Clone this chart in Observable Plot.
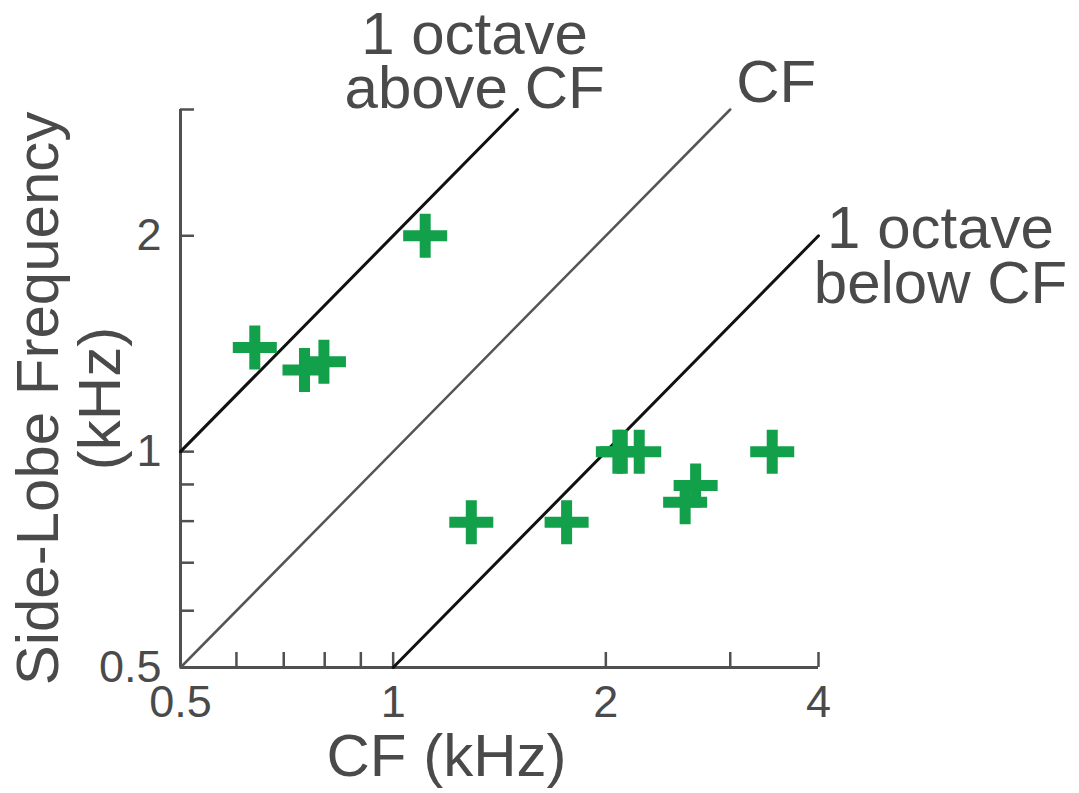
<!DOCTYPE html>
<html>
<head>
<meta charset="utf-8">
<script src="https://cdn.jsdelivr.net/npm/d3@7"></script>
<script src="https://cdn.jsdelivr.net/npm/@observablehq/plot@0.6"></script>
<style>
  html, body { margin: 0; padding: 0; background: #ffffff; }
  #chart svg { display: block; }
</style>
</head>
<body>
<div id="chart"></div>
<script>
// Data
const cfKHz = [0.637, 0.749, 0.798, 1.11, 1.29, 1.76, 2.08, 2.11, 2.23, 2.59, 2.68, 3.44];
const sideLobeKHz = [1.397, 1.30, 1.335, 2.0, 0.797, 0.797, 1.0, 1.0, 1.0, 0.85, 0.897, 1.0];

const xTickValues = [0.6, 0.7, 0.8, 0.9, 1, 2, 3, 4];
const xTickLabels = [0.5, 1, 2, 4];
const yTickValues = [0.6, 0.7, 0.8, 0.9, 1, 2, 3];
const yTickLabels = [0.5, 1, 2];

const octaveAboveX = [0.5, 1.5];
const octaveAboveY = [1, 3];
const cfLineX = [0.5, 3];
const cfLineY = [0.5, 3];
const octaveBelowX = [1, 4];
const octaveBelowY = [0.5, 2];

const labelAbove = "1 octave\nabove CF";
const labelCF = "CF";
const labelBelow = "1 octave\nbelow CF";
const xAxisLabel = "CF (kHz)";
const yAxisLabel = "Side-Lobe Frequency\n(kHz)";

const textColor = "#4a4a4a";
const axisColor = "#505050";
const green = "#12a04b";

const points = cfKHz.map((x, i) => ({cf: x, sl: sideLobeKHz[i]}));

const chart = Plot.plot({
  width: 1079,
  height: 793,
  marginLeft: 180,
  marginRight: 261,
  marginTop: 109,
  marginBottom: 126,
  x: {type: "log", domain: [0.5, 4]},
  y: {type: "log", domain: [0.5, 3]},
  style: {fontFamily: "'Liberation Sans', Arial, sans-serif", background: "#ffffff", color: textColor},
  marks: [
    // axis lines
    Plot.ruleY([0.5], {stroke: axisColor, strokeWidth: 3}),
    Plot.ruleX([0.5], {stroke: axisColor, strokeWidth: 3}),
    // inward ticks
    Plot.tickX(xTickValues, {x: d => d, insetTop: 543, stroke: axisColor, strokeWidth: 2.5}),
    Plot.tickY(yTickValues, {y: d => d, insetRight: 624, stroke: axisColor, strokeWidth: 2.5}),
    // tick labels
    Plot.axisX(xTickLabels, {tickSize: 0, tickPadding: 18, fontSize: 45, tickFormat: d => String(d), label: null, fill: textColor}),
    Plot.axisY(yTickLabels, {tickSize: 0, tickPadding: 19, fontSize: 45, tickFormat: d => String(d), label: null, fill: textColor}),
    // reference lines
    Plot.line({length: 2}, {x: cfLineX, y: cfLineY, stroke: "#555555", strokeWidth: 2.5}),
    Plot.line({length: 2}, {x: octaveAboveX, y: octaveAboveY, stroke: "#111111", strokeWidth: 3}),
    Plot.line({length: 2}, {x: octaveBelowX, y: octaveBelowY, stroke: "#111111", strokeWidth: 3}),
    // data points
    Plot.dot(points, {x: "cf", y: "sl", symbol: "plus", r: 14.2, stroke: green, strokeWidth: 11}),
    // annotations
    Plot.text([labelAbove], {x: [octaveAboveX[1]], y: [octaveAboveY[1]], text: d => d, textAnchor: "middle", lineAnchor: "bottom", lineHeight: 0.9, dx: -43, dy: -2, fontSize: 60, fill: textColor}),
    Plot.text([labelCF], {x: [cfLineX[1]], y: [cfLineY[1]], text: d => d, textAnchor: "start", lineAnchor: "bottom", dx: 6, dy: -8, fontSize: 60, fill: textColor}),
    Plot.text([labelBelow], {x: [octaveBelowX[1]], y: [octaveBelowY[1]], text: d => d, textAnchor: "middle", lineAnchor: "bottom", lineHeight: 0.92, dx: 122, dy: 67, fontSize: 60, fill: textColor}),
    Plot.text([xAxisLabel], {frameAnchor: "bottom", text: d => d, textAnchor: "middle", lineAnchor: "bottom", dx: -53, dy: 108, fontSize: 60, fill: textColor}),
    Plot.text([yAxisLabel], {frameAnchor: "left", text: d => d, rotate: -90, textAnchor: "middle", lineAnchor: "top", lineHeight: 1.03, dx: -166, dy: 10, fontSize: 60, fill: textColor})
  ]
});

document.getElementById("chart").appendChild(chart);
</script>
</body>
</html>
